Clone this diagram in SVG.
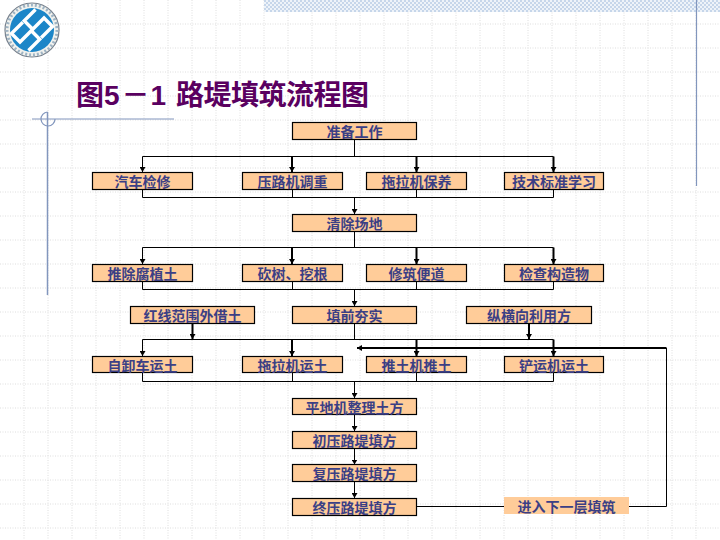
<svg xmlns="http://www.w3.org/2000/svg" width="720" height="540" viewBox="0 0 720 540">
<style>
.bx{fill:#ffcc99;stroke:#000;stroke-width:1.2}
.lb{font-family:"Noto Sans CJK SC","Liberation Sans",sans-serif;font-size:14px;font-weight:700;fill:#3b3f85;text-anchor:middle;dominant-baseline:central}
.ln{fill:none;stroke:#000;stroke-width:1}
.th{fill:none;stroke:#000;stroke-width:2}
.dec{fill:none;stroke:#8296bd;stroke-width:1.2}
.gr{stroke:#dedede;stroke-width:1;stroke-dasharray:1 1.5}
.tt{font-family:"Noto Sans CJK SC","Liberation Sans",sans-serif;font-size:28px;font-weight:700;fill:#5a0060}
.dg{font-family:"Liberation Sans",sans-serif;font-size:28px;font-weight:700;fill:#5a0060}
</style>
<defs>
<pattern id="chk" width="4" height="4" patternUnits="userSpaceOnUse"><rect width="4" height="4" fill="#eef3f9"/><rect width="2" height="2" fill="#c6d6ea"/><rect x="2" y="2" width="2" height="2" fill="#c6d6ea"/></pattern>
<marker id="ar" markerWidth="7" markerHeight="6" refX="5" refY="3" orient="auto" markerUnits="userSpaceOnUse"><path d="M0 0L5 3L0 6Z" fill="#000"/></marker>
</defs>
<rect width="720" height="540" fill="#fff"/>
<g id="background-grid" class="gr">
<path d="M24 0V540M48 0V540M72 0V540M96 0V540M120 0V540M144 0V540M168 0V540M192 0V540M216 0V540M240 0V540M264 0V540M288 0V540M312 0V540M336 0V540M360 0V540M384 0V540M408 0V540M432 0V540M456 0V540M480 0V540M504 0V540M528 0V540M552 0V540M576 0V540M600 0V540M624 0V540M648 0V540M672 0V540M696 0V540"/>
<path d="M0 24H720M0 48H720M0 72H720M0 96H720M0 120H720M0 144H720M0 168H720M0 192H720M0 216H720M0 240H720M0 264H720M0 288H720M0 312H720M0 336H720M0 360H720M0 384H720M0 408H720M0 432H720M0 456H720M0 480H720M0 504H720M0 528H720"/>
</g>
<rect x="264" y="0" width="456" height="12" fill="url(#chk)"/>
<g id="decor" class="dec">
<path d="M696.5 0V186"/>
<path d="M32 119H174"/>
<path d="M47.5 112V295" stroke-width="1.5"/>
<path d="M47.5 112A7 7 0 1 0 55 119"/>
</g>
<g id="logo">
<circle cx="32" cy="30" r="27" fill="#f2f2ee" stroke="#77808c" stroke-width="1.2"/>
<circle cx="32" cy="30" r="25" fill="none" stroke="#9fb4c4" stroke-width="3" stroke-dasharray="2 2"/>
<circle cx="32" cy="30" r="22" fill="#1c86c8"/>
<g transform="rotate(-45 32 30)" fill="none" stroke="#fff" stroke-width="3.4">
<path d="M31 18H15V30H31V42H15"/>
<path d="M49 18H33V30H49V42H33"/>
</g>
</g>
<g id="title">
<text class="tt" x="76" y="105">图</text>
<text class="dg" x="104" y="105">5</text>
<text class="tt" x="121.500" y="105">－</text>
<text class="dg" x="150.500" y="105">1</text>
<text class="tt" x="176" y="105" textLength="193">路堤填筑流程图</text>
</g>
<g id="connectors">
<path class="ln" d="M354.5 139.5V156.5M142.5 156.5H553.5"/>
<path class="ln" d="M142.5 156.5V172" marker-end="url(#ar)"/>
<path class="th" d="M292 156.5V172" marker-end="url(#ar)"/>
<path class="th" d="M416.5 156.5V172" marker-end="url(#ar)"/>
<path class="th" d="M553.5 156.5V172" marker-end="url(#ar)"/>
<path class="ln" d="M142.5 189.5V197.5M292.5 189.5V197.5M416.5 189.5V197.5M553.5 189.5V197.5M142.5 197.5H553.5"/>
<path class="ln" d="M354.5 197.5V214" marker-end="url(#ar)"/>
<path class="ln" d="M354.5 231.5V247.5M142.5 247.5H553.5"/>
<path class="ln" d="M142.5 247.5V264" marker-end="url(#ar)"/>
<path class="th" d="M292 247.5V264" marker-end="url(#ar)"/>
<path class="th" d="M416.5 247.5V264" marker-end="url(#ar)"/>
<path class="th" d="M553.5 247.5V264" marker-end="url(#ar)"/>
<path class="ln" d="M142.5 281.5V289.5M292.5 281.5V289.5M416.5 281.5V289.5M553.5 281.5V289.5M142.5 289.5H553.5"/>
<path class="ln" d="M354.5 289.5V306" marker-end="url(#ar)"/>
<path class="ln" d="M354.5 323.5V339.5M142.5 339.5H553.5"/>
<path class="th" d="M192.5 323.5V339" marker-end="url(#ar)"/>
<path class="th" d="M529 323.5V339" marker-end="url(#ar)"/>
<path class="ln" d="M142.5 339.5V356" marker-end="url(#ar)"/>
<path class="th" d="M292 339.5V356" marker-end="url(#ar)"/>
<path class="th" d="M416.5 339.5V356" marker-end="url(#ar)"/>
<path class="th" d="M553.5 339.5V356" marker-end="url(#ar)"/>
<path class="ln" d="M142.5 372.5V381.5M292.5 372.5V381.5M416.5 372.5V381.5M553.5 372.5V381.5M142.5 381.5H553.5"/>
<path class="ln" d="M354.5 381.5V398" marker-end="url(#ar)"/>
<path class="ln" d="M354.5 414.5V431" marker-end="url(#ar)"/>
<path class="ln" d="M354.5 448.5V464.5" marker-end="url(#ar)"/>
<path class="ln" d="M354.5 481.5V498" marker-end="url(#ar)"/>
<path class="ln" d="M416.5 506.5H666.5V348"/>
<path class="th" d="M666.5 348H357" marker-end="url(#ar)"/>
</g>
<g id="n1"><rect class="bx" x="292.5" y="122.5" width="124" height="17"/><text class="lb" x="354.5" y="131">准备工作</text></g>
<g id="n2"><rect class="bx" x="92.5" y="172.5" width="100" height="17"/><text class="lb" x="142.5" y="181">汽车检修</text></g>
<g id="n3"><rect class="bx" x="242.5" y="172.5" width="100" height="17"/><text class="lb" x="292.5" y="181">压路机调重</text></g>
<g id="n4"><rect class="bx" x="366.5" y="172.5" width="100" height="17"/><text class="lb" x="416.5" y="181">拖拉机保养</text></g>
<g id="n5"><rect class="bx" x="504.5" y="172.5" width="99" height="17"/><text class="lb" x="554" y="181">技术标准学习</text></g>
<g id="n6"><rect class="bx" x="292.5" y="214.5" width="124" height="17"/><text class="lb" x="354.5" y="223">清除场地</text></g>
<g id="n7"><rect class="bx" x="92.5" y="264.5" width="100" height="17"/><text class="lb" x="142.5" y="273">推除腐植土</text></g>
<g id="n8"><rect class="bx" x="242.5" y="264.5" width="100" height="17"/><text class="lb" x="292.5" y="273">砍树、挖根</text></g>
<g id="n9"><rect class="bx" x="366.5" y="264.5" width="100" height="17"/><text class="lb" x="416.5" y="273">修筑便道</text></g>
<g id="n10"><rect class="bx" x="504.5" y="264.5" width="99" height="17"/><text class="lb" x="554" y="273">检查构造物</text></g>
<g id="n11"><rect class="bx" x="130.5" y="306.5" width="124" height="17"/><text class="lb" x="192.5" y="315">红线范围外借土</text></g>
<g id="n12"><rect class="bx" x="292.5" y="306.5" width="124" height="17"/><text class="lb" x="354.5" y="315">填前夯实</text></g>
<g id="n13"><rect class="bx" x="466.5" y="306.5" width="125" height="17"/><text class="lb" x="529" y="315">纵横向利用方</text></g>
<g id="n14"><rect class="bx" x="92.5" y="356.5" width="100" height="16"/><text class="lb" x="142.5" y="365">自卸车运土</text></g>
<g id="n15"><rect class="bx" x="242.5" y="356.5" width="100" height="16"/><text class="lb" x="292.5" y="365">拖拉机运土</text></g>
<g id="n16"><rect class="bx" x="366.5" y="356.5" width="100" height="16"/><text class="lb" x="416.5" y="365">推土机推土</text></g>
<g id="n17"><rect class="bx" x="504.5" y="356.5" width="99" height="16"/><text class="lb" x="554" y="365">铲运机运土</text></g>
<g id="n18"><rect class="bx" x="292.5" y="398.5" width="124" height="16"/><text class="lb" x="354.5" y="407">平地机整理土方</text></g>
<g id="n19"><rect class="bx" x="292.5" y="431.5" width="124" height="17"/><text class="lb" x="354.5" y="440">初压路堤填方</text></g>
<g id="n20"><rect class="bx" x="292.5" y="464.5" width="124" height="17"/><text class="lb" x="354.5" y="473">复压路堤填方</text></g>
<g id="n21"><rect class="bx" x="292.5" y="498.5" width="124" height="17"/><text class="lb" x="354.5" y="507">终压路堤填方</text></g>
<g id="n22"><rect x="504" y="497" width="125" height="17" fill="#ffcc99"/><text class="lb" x="566.5" y="506">进入下一层填筑</text></g>
</svg>
